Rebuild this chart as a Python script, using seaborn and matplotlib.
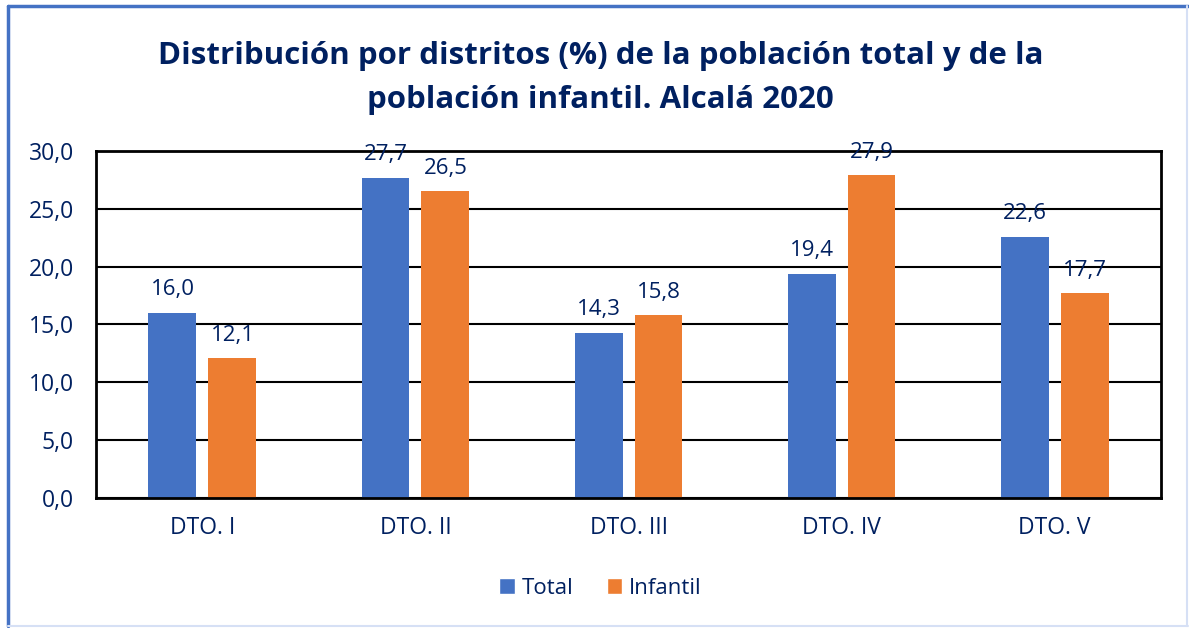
import pandas as pd
import seaborn as sns
import matplotlib.pyplot as plt
from matplotlib.lines import Line2D
from matplotlib.patches import Patch

# data
distritos = ["DTO. I", "DTO. II", "DTO. III", "DTO. IV", "DTO. V"]
total = [16.0, 27.7, 14.3, 19.4, 22.6]
infantil = [12.1, 26.5, 15.8, 27.9, 17.7]
series = ["Total", "Infantil"]
colores = ["#4472C4", "#ED7D31"]
navy = "#002060"

sns.set_theme(style="white")
plt.rcParams["font.family"] = ["Open Sans", "DejaVu Sans"]

df = pd.DataFrame({
    "distrito": distritos * 2,
    "pct": total + infantil,
    "serie": [series[0]] * 5 + [series[1]] * 5,
})

fig = plt.figure(figsize=(11.89, 6.28), dpi=100)
ax = fig.add_axes([0.0807, 0.207, 0.8958, 0.5526])

sns.barplot(data=df, x="distrito", y="pct", hue="serie", palette=colores,
            width=0.563, gap=0.2, legend=False, ax=ax, saturation=1, linewidth=0)

ax.set_ylim(0, 30)
ax.set_yticks(range(0, 31, 5))
ax.set_yticklabels([f"{v:.1f}".replace(".", ",") for v in range(0, 31, 5)])
ax.set_xlabel("")
ax.set_ylabel("")
ax.tick_params(axis="both", length=0, labelsize=16.5, labelcolor=navy)
ax.tick_params(axis="y", pad=16)
ax.tick_params(axis="x", pad=13)

ax.yaxis.grid(True, color="black", lw=1.5)
ax.set_axisbelow(True)
for sp in ax.spines.values():
    sp.set_color("black")
    sp.set_linewidth(2)

for cont, vals in zip(ax.containers, [total, infantil]):
    ax.bar_label(cont, labels=[f"{v:.1f}".replace(".", ",") for v in vals],
                 padding=9, fontsize=16, color=navy)

fig.text(0.505, 0.876, "Distribución por distritos (%) de la población total y de la\npoblación infantil. Alcalá 2020",
         ha="center", va="center", fontsize=22.5, fontweight="bold", color=navy,
         linespacing=1.6)

handles = [Patch(facecolor=c, label=s) for s, c in zip(series, colores)]
fig.legend(handles=handles, loc="center", bbox_to_anchor=(0.505, 0.063), ncol=2,
           frameon=False, fontsize=16, labelcolor=navy, handlelength=0.7,
           handleheight=0.7, handletextpad=0.3, columnspacing=1.5)

# figure border
fig.add_artist(Line2D([0.0067, 0.0067], [0.003, 0.991], transform=fig.transFigure, color="#4472C4", lw=2.5))
fig.add_artist(Line2D([0.0067, 0.999], [0.991, 0.991], transform=fig.transFigure, color="#4472C4", lw=2.5))
fig.add_artist(Line2D([0.9985, 0.9985], [0.003, 0.991], transform=fig.transFigure, color="#D6E0F5", lw=1.5))
fig.add_artist(Line2D([0.0067, 0.999], [0.003, 0.003], transform=fig.transFigure, color="#D6E0F5", lw=1.5))

fig.savefig("out.png", dpi=100)
